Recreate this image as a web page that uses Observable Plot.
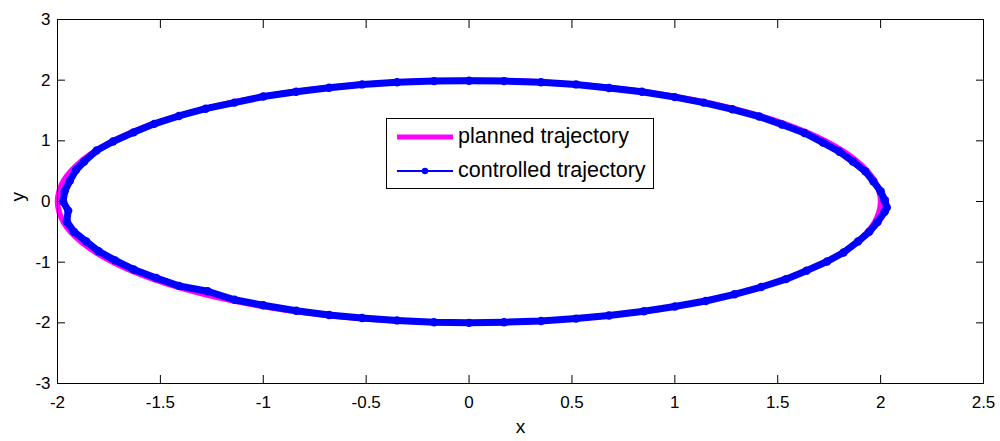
<!DOCTYPE html>
<html>
<head>
<meta charset="utf-8">
<script src="https://cdn.jsdelivr.net/npm/d3@7"></script>
<script src="https://cdn.jsdelivr.net/npm/@observablehq/plot@0.6"></script>
<style>
  html, body { margin: 0; padding: 0; background: #fff; }
  #wrap { position: relative; width: 1000px; height: 441px; font-family: "Liberation Sans", Arial, sans-serif; }
  #legend { position: absolute; left: 386px; top: 118px; width: 268px; height: 71px; border: 1px solid #000; background: #fff; box-sizing: border-box; }
  .row { position: absolute; left: 0; height: 30px; display: flex; align-items: center; }
  .row svg { margin-left: 10px; }
  .row span { margin-left: 5px; font-size: 21.5px; color: #000; line-height: 1; }
</style>
</head>
<body>
<div id="wrap"></div>
<script>
// Tick labels
const xTicks = [-2, -1.5, -1, -0.5, 0, 0.5, 1, 1.5, 2, 2.5];
const yTicks = [-3, -2, -1, 0, 1, 2, 3];

// Planned trajectory
const plannedX = [2, 1.970, 1.879, 1.732, 1.532, 1.286, 1.0, 0.684, 0.347, 0, -0.347, -0.684, -1.0, -1.286, -1.532, -1.732, -1.879, -1.970,
                  -2, -1.970, -1.879, -1.732, -1.532, -1.286, -1.0, -0.684, -0.347, 0, 0.347, 0.684, 1.0, 1.286, 1.532, 1.732, 1.879, 1.970];
const plannedY = [0, 0.347, 0.684, 1.0, 1.286, 1.532, 1.732, 1.879, 1.970, 2, 1.970, 1.879, 1.732, 1.532, 1.286, 1.0, 0.684, 0.347,
                  0, -0.347, -0.684, -1.0, -1.286, -1.532, -1.732, -1.879, -1.970, -2, -1.970, -1.879, -1.732, -1.532, -1.286, -1.0, -0.684, -0.347];

// Controlled trajectory
const controlledX = [2.02, 2.00, 1.965, 1.925, 1.865, 1.80, 1.72, 1.63, 1.52, 1.41, 1.28, 1.14, 1.00, 0.84, 0.68, 0.52, 0.35, 0.17,
                     0.00, -0.17, -0.35, -0.52, -0.68, -0.84, -1.00, -1.14, -1.28, -1.41, -1.53, -1.63, -1.73, -1.81, -1.87, -1.91,
                     -1.94, -1.965, -1.973, -1.948, -1.955, -1.92, -1.86, -1.80, -1.72, -1.63, -1.52, -1.41, -1.27, -1.14, -1.00, -0.84,
                     -0.68, -0.52, -0.35, -0.17, 0.00, 0.17, 0.35, 0.52, 0.68, 0.85, 1.00, 1.15, 1.29, 1.42, 1.54, 1.64, 1.74, 1.82,
                     1.89, 1.945, 1.985, 2.02, 2.03, 2.02];
const controlledY = [0.02, 0.17, 0.33, 0.50, 0.66, 0.82, 0.97, 1.13, 1.27, 1.40, 1.52, 1.63, 1.72, 1.81, 1.87, 1.93, 1.965, 1.985,
                     1.99, 1.985, 1.965, 1.93, 1.875, 1.81, 1.73, 1.63, 1.53, 1.41, 1.28, 1.14, 0.99, 0.84, 0.66, 0.52,
                     0.34, 0.17, 0.00, -0.15, -0.33, -0.50, -0.66, -0.82, -0.97, -1.12, -1.26, -1.39, -1.48, -1.62, -1.71, -1.80,
                     -1.87, -1.92, -1.96, -1.99, -2.00, -1.99, -1.97, -1.93, -1.88, -1.81, -1.73, -1.64, -1.53, -1.41, -1.28, -1.14, -0.99, -0.84,
                     -0.66, -0.50, -0.34, -0.17, -0.10, 0.02];

const planned = plannedX.map((x, i) => ({x, y: plannedY[i]}));
const controlled = controlledX.map((x, i) => ({x, y: controlledY[i]}));

const fmt = d => String(d);
const font = '"Liberation Sans", Arial, sans-serif';

const chart = Plot.plot({
  width: 1000,
  height: 441,
  marginLeft: 57,
  marginRight: 17,
  marginTop: 19,
  marginBottom: 58,
  style: {fontFamily: font, fontSize: "17px", background: "#fff", color: "#000"},
  x: {domain: [-2, 2.5]},
  y: {domain: [-3, 3]},
  marks: [
    Plot.line(planned, {x: "x", y: "y", stroke: "#ff00ff", strokeWidth: 5.5, curve: "catmull-rom-closed"}),
    Plot.line(controlled, {x: "x", y: "y", stroke: "#0000ff", strokeWidth: 7, strokeLinejoin: "round"}),
    Plot.dot(controlled, {x: "x", y: "y", r: 4.2, fill: "#0000ff"}),
    Plot.frame({stroke: "#000"}),
    Plot.axisX({anchor: "bottom", ticks: xTicks, tickSize: 0, tickPadding: 12, tickFormat: fmt, label: null, fontSize: 17}),
    Plot.axisX({anchor: "bottom", ticks: xTicks, tickSize: -8, tickFormat: () => "", label: null}),
    Plot.axisX({anchor: "top", ticks: xTicks, tickSize: -8, tickFormat: () => "", label: null}),
    Plot.axisY({anchor: "left", ticks: yTicks, tickSize: 0, tickPadding: 7, tickFormat: fmt, label: null, fontSize: 17}),
    Plot.axisY({anchor: "left", ticks: yTicks, tickSize: -8, tickFormat: () => "", label: null}),
    Plot.axisY({anchor: "right", ticks: yTicks, tickSize: -8, tickFormat: () => "", label: null}),
    Plot.text(["x"], {frameAnchor: "bottom", dy: 49, fontSize: 19}),
    Plot.text(["y"], {frameAnchor: "left", dx: -40, rotate: -90, fontSize: 19})
  ]
});

const wrap = document.getElementById("wrap");
wrap.appendChild(chart);

const legend = document.createElement("div");
legend.id = "legend";
legend.innerHTML = `
  <div class="row" style="top:3px"><svg width="56" height="10"><line x1="0" x2="56" y1="5" y2="5" stroke="#ff00ff" stroke-width="5"/></svg><span>planned trajectory</span></div>
  <div class="row" style="top:37px"><svg width="56" height="10"><line x1="0" x2="56" y1="5" y2="5" stroke="#0000ff" stroke-width="2"/><circle cx="28" cy="5" r="3.2" fill="#0000ff"/></svg><span>controlled trajectory</span></div>`;
wrap.appendChild(legend);
</script>
</body>
</html>
